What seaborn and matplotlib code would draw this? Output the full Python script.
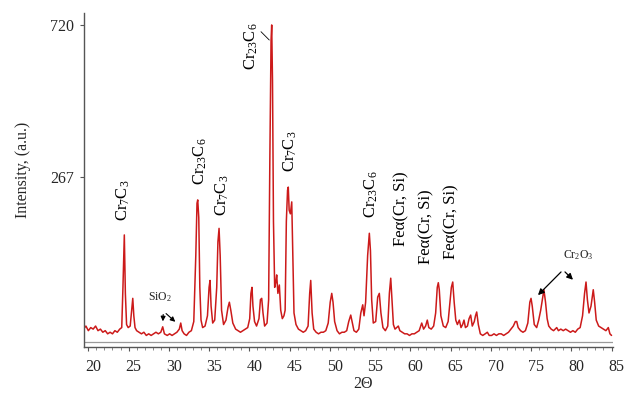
import matplotlib
matplotlib.use("Agg")
import matplotlib.pyplot as plt
import matplotlib.ticker as mticker
import matplotlib.transforms as mtransforms
import seaborn as sns
import pandas as pd

# ---- data ----
two_theta = [
    19.4, 19.7, 20.0, 20.3, 20.6, 20.9, 21.2, 21.5, 21.8, 22.1, 22.4, 22.7, 23.0, 23.3, 23.6, 23.9,
    24.15, 24.3, 24.47, 24.6, 24.75, 24.95, 25.2, 25.35, 25.52, 25.65, 25.8, 26.0, 26.3, 26.6, 26.9,
    27.2, 27.5, 27.8, 28.1, 28.4, 28.7, 29.0, 29.24, 29.45, 29.8, 30.1, 30.4, 30.7, 31.0, 31.3, 31.48,
    31.65, 31.9, 32.2, 32.5, 32.8, 33.1, 33.35, 33.5, 33.59, 33.72, 33.85, 34.0, 34.2, 34.5, 34.8,
    35.0, 35.12, 35.25, 35.45, 35.7, 35.95, 36.1, 36.24, 36.38, 36.55, 36.8, 37.1, 37.35, 37.52, 37.7,
    37.95, 38.3, 38.6, 38.9, 39.2, 39.5, 39.8, 40.05, 40.2, 40.33, 40.45, 40.65, 40.9, 41.2, 41.38,
    41.54, 41.7, 41.9, 42.2, 42.4, 42.55, 42.7, 42.78, 42.88, 43.0, 43.15, 43.3, 43.4, 43.55, 43.73,
    43.9, 44.1, 44.3, 44.45, 44.6, 44.75, 44.84, 44.95, 45.1, 45.27, 45.4, 45.55, 45.8, 46.1, 46.4,
    46.7, 47.0, 47.3, 47.5, 47.63, 47.8, 48.0, 48.3, 48.6, 48.9, 49.2, 49.5, 49.8, 50.05, 50.24, 50.4,
    50.6, 50.9, 51.2, 51.5, 51.8, 52.1, 52.35, 52.6, 52.8, 53.0, 53.3, 53.6, 53.85, 54.09, 54.25,
    54.45, 54.7, 54.91, 55.05, 55.2, 55.4, 55.7, 55.95, 56.15, 56.35, 56.6, 56.9, 57.2, 57.4, 57.57,
    57.72, 57.9, 58.1, 58.3, 58.51, 58.7, 59.0, 59.3, 59.6, 59.9, 60.2, 60.5, 60.8, 61.1, 61.42,
    61.65, 61.9, 62.11, 62.3, 62.6, 62.9, 63.15, 63.35, 63.48, 63.6, 63.8, 64.1, 64.4, 64.7, 64.95,
    65.1, 65.27, 65.45, 65.65, 65.85, 66.09, 66.3, 66.5, 66.67, 66.85, 67.1, 67.3, 67.5, 67.7, 67.95,
    68.1, 68.25, 68.45, 68.7, 69.0, 69.3, 69.57, 69.8, 70.1, 70.4, 70.7, 71.0, 71.3, 71.6, 71.9,
    72.2, 72.5, 72.8, 73.05, 73.22, 73.4, 73.7, 74.0, 74.3, 74.6, 74.85, 75.0, 75.15, 75.4, 75.7,
    75.95, 76.2, 76.45, 76.6, 76.8, 77.0, 77.2, 77.5, 77.8, 78.0, 78.19, 78.4, 78.7, 79.0, 79.3,
    79.6, 79.9, 80.2, 80.5, 80.8, 81.1, 81.4, 81.65, 81.83, 82.0, 82.2, 82.45, 82.73, 82.9, 83.1,
    83.4, 83.7, 84.0, 84.3, 84.6, 84.8, 85.0,
]
intensity = [
    99, 101, 98, 100, 99, 101, 98, 99, 97, 98, 96, 97, 96, 98, 97, 99,
    100, 130, 183, 125, 102, 100, 101, 110, 121, 108, 100, 98, 97, 96, 97,
    95, 96, 95, 96, 97, 96, 97, 100.5, 96, 95, 96, 95, 96, 97, 99, 103,
    98, 96, 95, 97, 98, 104, 160, 225, 230, 205, 130, 105, 100, 101, 108,
    130, 136, 115, 103, 105, 130, 175, 191, 160, 112, 102, 105, 114, 118, 112,
    103, 99, 98, 97, 98, 99, 100, 106, 125, 130, 115, 104, 101, 106, 120,
    121, 110, 101, 103, 120, 300, 650, 720, 500, 200, 130, 135, 141, 125, 132,
    112, 106, 108, 112, 200, 245, 250, 215, 210, 227, 160, 110, 102, 99, 98,
    97, 98, 101, 125, 136, 110, 99, 97, 96, 97, 97, 98, 103, 118, 125, 118,
    104, 98, 96, 97, 97, 98, 104, 108.5, 103, 98, 97, 99, 110, 116, 108,
    118, 160, 185, 165, 120, 103, 104, 122, 125, 110, 100, 98, 101, 125, 138,
    120, 102, 99, 100, 101, 98, 97, 96, 96, 95, 96, 96, 97, 98, 103,
    99, 101, 105, 100, 99, 101, 110, 130, 134, 128, 108, 101, 100, 104, 120,
    130, 134.6, 118, 105, 102, 105, 100, 102, 105, 100, 101, 106, 108.5, 101, 104,
    108, 110.7, 102, 96, 95, 96, 97, 95, 95, 96, 95, 96, 96, 95, 96,
    97, 99, 101, 104, 104, 100, 98, 97, 98, 103, 118, 121, 115, 102, 100,
    105, 112, 122, 128, 118, 106, 101, 99, 98, 99, 100, 98, 99, 98, 99,
    98, 97, 98, 97, 99, 100, 108, 125, 134.6, 120, 110, 115, 128, 118, 105,
    101, 100, 99, 98, 100, 96, 95,
]
phase_labels = ["Cr$_7$C$_3$", "Cr$_{23}$C$_6$", "Cr$_7$C$_3$", "Cr$_{23}$C$_6$",
                "Cr$_7$C$_3$", "Cr$_{23}$C$_6$", "Feα(Cr, Si)", "Feα(Cr, Si)", "Feα(Cr, Si)"]
y_ticks = [267, 720]
y_tick_labels = ["267", "720"]
x_ticks = [20, 25, 30, 35, 40, 45, 50, 55, 60, 65, 70, 75, 80, 85]

df = pd.DataFrame({"two_theta": two_theta, "intensity": intensity})

sns.set_style("white")
plt.rcParams["font.family"] = ["Liberation Serif", "DejaVu Serif"]
plt.rcParams["mathtext.fontset"] = "custom"
plt.rcParams["mathtext.rm"] = "Liberation Serif"
plt.rcParams["mathtext.it"] = "Liberation Serif:italic"
plt.rcParams["mathtext.bf"] = "Liberation Serif:bold"

fig = plt.figure(figsize=(6.26, 3.94), dpi=100)
ax = fig.add_axes([0.1334, 0.1193, 0.8458, 0.8477])

sns.lineplot(data=df, x="two_theta", y="intensity", ax=ax, color="#cc1a1a",
             linewidth=1.1, sort=False, estimator=None)

ax.set_yscale("log")
ax.set_xlim(19.4, 85.18)
ax.set_ylim(88.1, 778.4)
ax.axhline(91, color="#9a9a9a", linewidth=0.9, zorder=1)

ax.set_yticks(y_ticks)
ax.set_yticklabels(y_tick_labels)
ax.yaxis.set_minor_locator(mticker.NullLocator())
ax.set_xticks(x_ticks)
ax.xaxis.set_minor_locator(mticker.MultipleLocator(1))

for side in ["top", "right"]:
    ax.spines[side].set_visible(False)
for side in ["left", "bottom"]:
    ax.spines[side].set_color("#555555")
    ax.spines[side].set_linewidth(1.0)

ax.tick_params(axis="x", which="major", length=3, width=0.8, color="#555555",
               labelsize=11.5, pad=6, direction="out", bottom=True)
ax.tick_params(axis="x", which="minor", length=2, width=0.6, color="#777777",
               direction="out", bottom=True)
ax.tick_params(axis="y", which="major", length=3, width=0.8, color="#555555",
               labelsize=11.5, pad=4, direction="out", left=True)

offset = mtransforms.ScaledTranslation(5 / 100, 0, fig.dpi_scale_trans)
for lab in ax.get_xticklabels():
    lab.set_transform(lab.get_transform() + offset)

ax.set_xlabel("2Θ", fontsize=11.5, va="center")
ax.xaxis.set_label_coords(0.528, -0.112)
ax.set_ylabel("Intensity, (a.u.)", fontsize=11.5, va="center")
ax.yaxis.set_label_coords(-0.114, 0.53)

# rotated phase labels
label_pos = [(24.32, 229.9), (33.88, 295.4), (36.70, 237.4), (40.21, 627.7),
             (45.06, 316.3), (55.20, 239.0), (58.93, 216.7), (62.04, 192.6), (65.14, 199.1)]
for (lx, ly), txt in zip(label_pos, phase_labels):
    ax.text(lx, ly, txt, rotation=90, ha="center", va="center", fontsize=12, color="black")

# leader line for main peak
ax.plot([41.45, 42.48], [689, 652.6], color="black", linewidth=0.6)

# SiO2 annotation
ax.text(28.91, 121.7, "SiO$_2$", ha="center", va="center", fontsize=8.5, color="#222222")
ax.annotate("", xy=(29.24, 102.3), xytext=(29.32, 110.9),
            arrowprops=dict(arrowstyle="-|>", color="black", lw=0.8, mutation_scale=7))
ax.annotate("", xy=(31.06, 102.6), xytext=(29.40, 110.9),
            arrowprops=dict(arrowstyle="-|>", color="black", lw=0.8, mutation_scale=7))

# Cr2O3 annotation
ax.text(80.83, 160.4, "Cr$_2$O$_3$", ha="center", va="center", fontsize=8.5, color="#222222")
ax.annotate("", xy=(75.62, 122), xytext=(78.97, 145.6),
            arrowprops=dict(arrowstyle="-|>", color="black", lw=0.9, mutation_scale=9))
ax.annotate("", xy=(80.46, 134.9), xytext=(78.97, 145.6),
            arrowprops=dict(arrowstyle="-|>", color="black", lw=0.9, mutation_scale=9))

fig.savefig("out.png", dpi=100)
